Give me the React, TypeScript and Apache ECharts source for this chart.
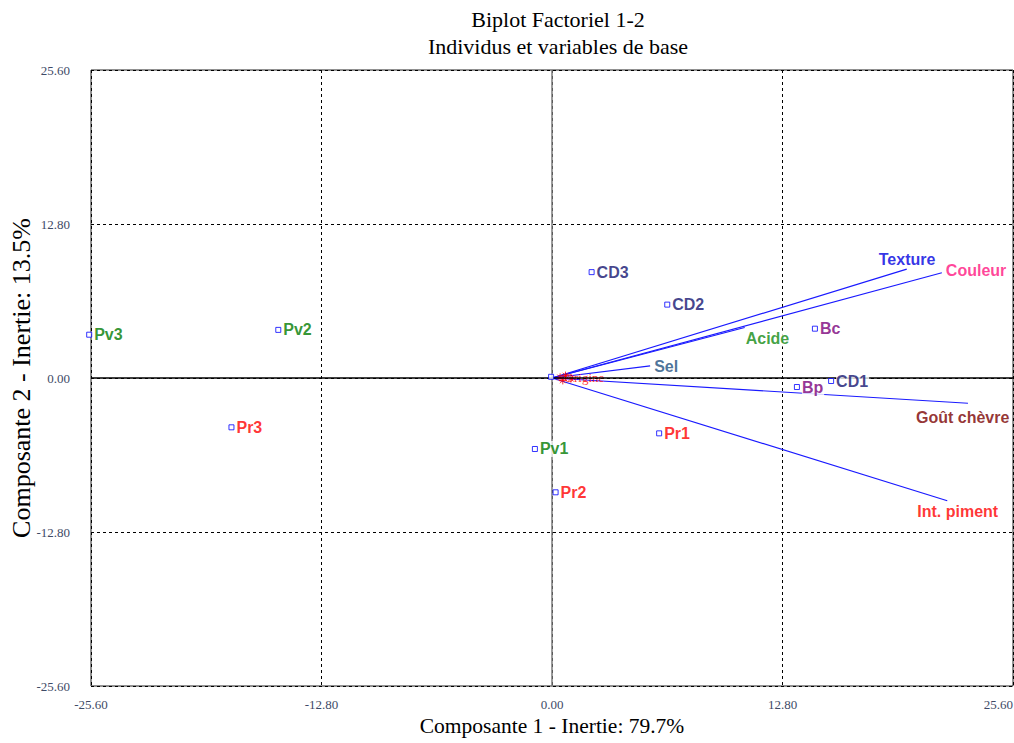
import React, { useEffect, useRef } from 'react';
import * as echarts from 'echarts';

// ---- Texts ----
const titleMain = 'Biplot Factoriel 1-2';
const titleSub = 'Individus et variables de base';
const xAxisTitle = 'Composante 1 - Inertie: 79.7%';
const yAxisTitle = 'Composante 2 - Inertie: 13.5%';

// ---- Axis scale ----
const axisMin = -25.6;
const axisMax = 25.6;
const axisStep = 12.8;

// ---- Individuals (observations) ----
const individualNames = ['Pv3', 'Pv2', 'Pr3', 'CD3', 'CD2', 'Bc', 'Bp', 'CD1', 'Pr1', 'Pv1', 'Pr2', ''];
const individualX = [-25.7, -15.2, -17.8, 2.2, 6.4, 14.6, 13.6, 15.5, 5.95, -0.95, 0.2, -0.05];
const individualY = [3.6, 4.0, -4.1, 8.8, 6.1, 4.1, -0.75, -0.25, -4.6, -5.9, -9.5, 0.1];
const individualGroup = ['Pv', 'Pv', 'Pr', 'CD', 'CD', 'B', 'B', 'CD', 'Pr', 'Pv', 'Pr', 'Pr'];

// ---- Variables (vectors from origin) ----
const variableNames = ['Texture', 'Couleur', 'Acide', 'Sel', 'Goût chèvre', 'Int. piment'];
const variableX = [19.7, 21.65, 10.7, 5.45, 23.1, 21.95];
const variableY = [9.05, 8.75, 4.2, 1.0, -2.1, -10.2];

// ---- Points clustered at the origin ----
const originNames = ['Origine', '', '', ''];
const originX = [0.45, 0.75, 1.05, 0.6];
const originY = [0.05, 0.2, -0.05, -0.2];

// ---- Styles (not data) ----
const groupColor: Record<string, string> = {
  Pv: '#007a00',
  Pr: '#ff0000',
  CD: '#141470',
  B: '#7a007a',
};
const variableLabelStyle: Record<string, { color: string; dx: number; dy: number }> = {
  Texture: { color: '#0000e0', dx: -28, dy: -10 },
  Couleur: { color: '#ff1480', dx: 4, dy: -2 },
  Acide: { color: '#118a11', dx: 1, dy: 11 },
  Sel: { color: '#1e4f80', dx: 4, dy: 1 },
  'Goût chèvre': { color: '#7a0000', dx: -52, dy: 14 },
  'Int. piment': { color: '#ff0000', dx: -30, dy: 11 },
};

const SANS = '"Liberation Sans", Arial, sans-serif';
const SERIF = '"Liberation Serif", "Times New Roman", serif';

export default function App() {
  const ref = useRef<HTMLDivElement>(null);

  useEffect(() => {
    if (!ref.current) return;
    const chart = echarts.init(ref.current, null, { renderer: 'svg' });

    const individualData = individualNames.map((n, i) => ({
      name: n,
      value: [individualX[i], individualY[i]],
      label: { color: groupColor[individualGroup[i]], show: n !== '' },
    }));

    const variableLabelData = variableNames.map((n, i) => {
      const s = variableLabelStyle[n];
      return {
        name: n,
        value: [variableX[i], variableY[i]],
        label: { color: s.color, offset: [s.dx, s.dy] },
      };
    });

    const option: any = {
      animation: false,
      backgroundColor: '#ffffff',
      title: {
        text: titleMain,
        subtext: titleSub,
        left: 553,
        top: 3,
        textAlign: 'center',
        itemGap: 5,
        textStyle: { fontFamily: SERIF, fontSize: 22, fontWeight: 'normal', color: '#000' },
        subtextStyle: { fontFamily: SERIF, fontSize: 22, color: '#000' },
      },
      grid: {
        left: 91,
        right: 1,
        top: 70,
        bottom: 57,
        show: true,
        containLabel: false,
        outerBoundsMode: 'none',
        borderColor: '#222',
        borderWidth: 1,
        backgroundColor: 'transparent',
      },
      xAxis: {
        type: 'value',
        min: axisMin,
        max: axisMax,
        interval: axisStep,
        name: xAxisTitle,
        nameLocation: 'middle',
        nameMoveOverlap: false,
        nameGap: 29,
        nameTextStyle: { fontFamily: SERIF, fontSize: 21.5, color: '#000' },
        axisLine: { show: false },
        axisTick: { show: false },
        axisLabel: {
          fontFamily: SERIF,
          fontSize: 13,
          color: '#3e4a66',
          margin: 12,
          alignMaxLabel: 'right',
          formatter: (v: number) => v.toFixed(2),
        },
        splitLine: { show: true, lineStyle: { color: '#000', type: [3, 3], width: 1 } },
      },
      yAxis: {
        type: 'value',
        min: axisMin,
        max: axisMax,
        interval: axisStep,
        name: yAxisTitle,
        nameLocation: 'middle',
        nameMoveOverlap: false,
        nameGap: 57,
        nameTextStyle: { fontFamily: SERIF, fontSize: 26, color: '#000' },
        axisLine: { show: false },
        axisTick: { show: false },
        axisLabel: {
          fontFamily: SERIF,
          fontSize: 13,
          color: '#3e4a66',
          margin: 21,
          formatter: (v: number) => v.toFixed(2),
        },
        splitLine: { show: true, lineStyle: { color: '#000', type: [3, 3], width: 1 } },
      },
      series: [
        {
          type: 'line',
          data: [],
          z: 1,
          silent: true,
          markLine: {
            silent: true,
            symbol: 'none',
            label: { show: false },
            animation: false,
            data: [
              { xAxis: 0, lineStyle: { color: '#7a7a7a', type: 'solid', width: 1.5 } },
              { yAxis: 0, lineStyle: { color: '#000', type: 'solid', width: 1.5 } },
            ],
          },
        },
        {
          type: 'lines',
          coordinateSystem: 'cartesian2d',
          z: 2,
          silent: true,
          lineStyle: { color: '#1a1aff', width: 1.2, opacity: 1 },
          data: variableNames.map((n, i) => ({
            name: n,
            coords: [
              [0, 0],
              [variableX[i], variableY[i]],
            ],
          })),
        },
        {
          type: 'scatter',
          z: 3,
          clip: false,
          silent: true,
          symbol: 'path://M0,-5L0,5M-5,0L5,0M-3.5,-3.5L3.5,3.5M-3.5,3.5L3.5,-3.5',
          symbolSize: 8,
          itemStyle: { color: 'transparent', borderColor: '#ff0000', borderWidth: 1 },
          label: {
            show: true,
            position: 'right',
            distance: 0,
            formatter: '{b}',
            fontFamily: SERIF,
            fontSize: 13,
            color: '#ff0000',
          },
          data: originNames.map((n, i) => ({ name: n, value: [originX[i], originY[i]] })),
        },
        {
          type: 'scatter',
          z: 5,
          clip: false,
          silent: true,
          symbol: 'rect',
          symbolSize: 5,
          itemStyle: { color: '#ffffff', borderColor: '#0000ff', borderWidth: 1 },
          label: {
            show: true,
            position: 'right',
            distance: 2,
            formatter: '{b}',
            fontFamily: SANS,
            fontSize: 16,
            fontWeight: 'bold',
            backgroundColor: '#ffffff',
            padding: [0, 1, 0, 0],
          },
          data: individualData,
        },
        {
          type: 'scatter',
          z: 4,
          clip: false,
          silent: true,
          symbol: 'circle',
          symbolSize: 1,
          itemStyle: { color: 'transparent' },
          label: {
            show: true,
            position: 'inside',
            align: 'left',
            verticalAlign: 'middle',
            formatter: '{b}',
            fontFamily: SANS,
            fontSize: 16,
            fontWeight: 'bold',
            backgroundColor: '#ffffff',
          },
          data: variableLabelData,
        },
      ],
    };

    chart.setOption(option);
    return () => chart.dispose();
  }, []);

  return (
    <div
      ref={ref}
      style={{ position: 'absolute', left: 0, top: 0, width: 1014, height: 743 }}
    />
  );
}
